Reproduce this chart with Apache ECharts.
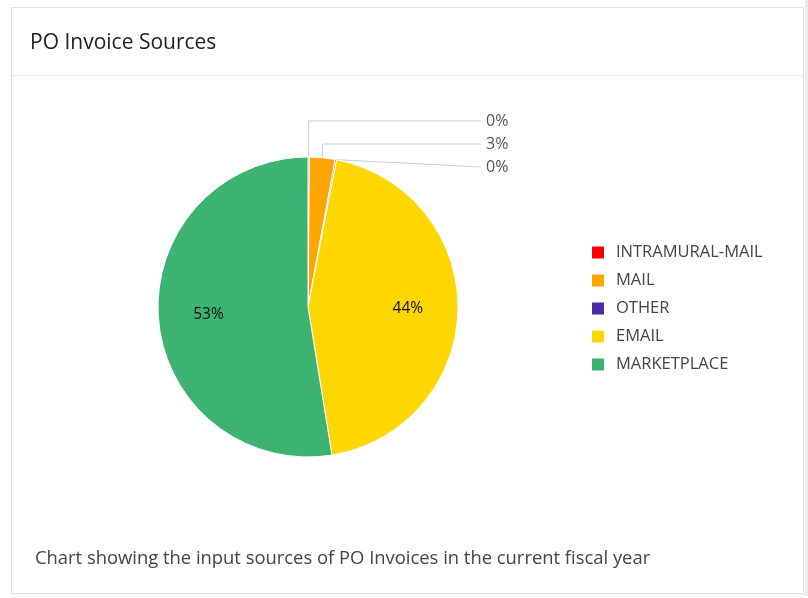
<!DOCTYPE html>
<html>
<head>
<meta charset="utf-8">
<script src="https://cdn.jsdelivr.net/npm/echarts@6/dist/echarts.min.js"></script>
<style>
html,body{margin:0;padding:0;background:#fff;overflow:hidden;}
#card{position:absolute;left:11px;top:7px;width:793px;height:587px;border:1px solid #e2e2e2;box-shadow:0 1px 2px rgba(0,0,0,0.06);box-sizing:border-box;}
#strip{position:absolute;left:805px;top:0;width:3px;height:596px;background:#ececec;}
#chart{position:absolute;left:0;top:0;width:808px;height:598px;}
</style>
</head>
<body>
<div id="card"></div>
<div id="strip"></div>
<div id="chart"></div>
<script>
const titleText = 'PO Invoice Sources';
const captionText = 'Chart showing the input sources of PO Invoices in the current fiscal year';
const categories = ['INTRAMURAL-MAIL', 'MAIL', 'OTHER', 'EMAIL', 'MARKETPLACE'];
const values = [0.15, 2.75, 0.15, 44.4, 52.55];
const colors = ['#ff0000', '#ffa500', '#4e2ba6', '#ffd700', '#3cb371'];
const outsideLabelY = [121, 144, 167];

const FONT = '"Open Sans", "Noto Sans", sans-serif';
const cx = 308, cy = 307, R = 150;

const chart = echarts.init(document.getElementById('chart'));

const data = categories.map((name, i) => {
  const outside = i < 3;
  return {
    name: name,
    value: values[i],
    itemStyle: { color: colors[i] },
    label: outside
      ? { show: true, position: 'outside', color: '#555', fontSize: 16, fontFamily: FONT }
      : { show: true, position: 'inside', color: '#111', fontSize: 15.5, fontFamily: FONT },
    labelLine: { show: outside, lineStyle: { color: '#c5cdd9', width: 1 } }
  };
});

chart.setOption({
  animation: false,
  graphic: [
    { type: 'line', shape: { x1: 12, y1: 75.5, x2: 803, y2: 75.5 }, style: { stroke: '#ececec', lineWidth: 1 } },
    { type: 'text', x: 30, y: 43, style: { text: titleText, font: '21px ' + FONT, fill: '#222', textVerticalAlign: 'middle' } },
    { type: 'text', x: 35, y: 559, style: { text: captionText, font: '18.4px ' + FONT, fill: '#444', textVerticalAlign: 'middle' } }
  ],
  legend: {
    orient: 'vertical',
    left: 590,
    top: 244,
    padding: 0,
    itemWidth: 14,
    itemHeight: 14,
    itemGap: 11,
    icon: 'rect',
    data: categories,
    textStyle: { color: '#444', fontSize: 16.5, fontFamily: FONT, padding: [0, 0, 0, 6] }
  },
  series: [{
    type: 'pie',
    center: [cx, cy],
    radius: [0, R],
    startAngle: 90,
    clockwise: true,
    avoidLabelOverlap: false,
    itemStyle: { borderColor: '#fff', borderWidth: 1 },
    label: {
      formatter: p => Math.round(p.percent) + '%'
    },
    labelLayout: function (params) {
      const i = params.dataIndex;
      if (i < 3) {
        const pts = params.labelLinePoints;
        const p0 = pts ? pts[0] : [cx, cy - R];
        const y = outsideLabelY[i];
        let mid;
        if (i < 2) mid = [p0[0], y];
        else mid = [(p0[0] + 481) / 2, (p0[1] + y) / 2];
        return {
          x: 486, y: y, align: 'left', verticalAlign: 'middle',
          labelLinePoints: [p0, mid, [481, y]]
        };
      }
      const r = params.labelRect;
      const lx = r.x + r.width / 2, ly = r.y + r.height / 2;
      return {
        x: cx + (lx - cx) * 1.28,
        y: cy + (ly - cy) * 1.28,
        align: 'center', verticalAlign: 'middle'
      };
    },
    data: data
  }]
});
</script>
</body>
</html>
